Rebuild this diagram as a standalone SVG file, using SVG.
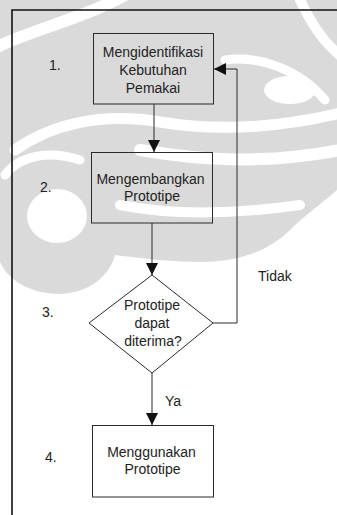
<svg xmlns="http://www.w3.org/2000/svg" width="337" height="515" viewBox="0 0 337 515">
  <style>
    .wm { fill: #dadada; }
    .gap { fill: none; stroke: #ffffff; stroke-linecap: round; }
    .box { fill: none; stroke: #2a2a2a; stroke-width: 1; }
    .edge { fill: none; stroke: #2a2a2a; stroke-width: 1; }
    .t { font-family: "Liberation Sans", Arial, sans-serif; font-size: 14px; fill: #222; }
    .c { text-anchor: middle; }
  </style>
  <defs>
    <marker id="arrow" viewBox="0 0 12 12" refX="12" refY="6" markerWidth="12" markerHeight="12" markerUnits="userSpaceOnUse" orient="auto">
      <path d="M0,0 L12,6 L0,12 Z" fill="#111"/>
    </marker>
  </defs>

  <rect width="337" height="515" fill="#ffffff"/>

  <!-- faint emblem in the background -->
  <g id="emblem">
    <path class="wm" d="M0,0 H337 V190 C320,205 305,215 290,230 C270,250 240,262 200,262 C170,262 140,258 115,255 C110,275 90,293 60,294 C30,294 8,280 0,262 Z"/>
    <path class="gap" stroke-width="12" d="M-5,48 C30,30 80,20 125,-5"/>
    <path class="gap" stroke-width="11" d="M15,150 C50,125 100,112 160,122 C220,132 280,128 345,112"/>
    <path class="gap" stroke-width="9" d="M225,60 C260,55 300,70 325,100"/>
    <ellipse cx="290" cy="90" rx="26" ry="14" fill="#ffffff"/>
    <path class="gap" stroke-width="12" d="M140,150 C200,160 260,165 340,150"/>
    <path class="gap" stroke-width="10" d="M120,205 C170,215 230,215 300,205"/>
    <path class="gap" stroke-width="9" d="M5,175 C20,155 50,150 80,160"/>
    <ellipse cx="57" cy="216" rx="30" ry="27" fill="#ffffff"/>
    <path class="gap" stroke-width="10" d="M300,0 C310,20 320,40 345,60"/>
  </g>

  <!-- page frame -->
  <path d="M12,515 V10 H337" fill="none" stroke="#111" stroke-width="1.6"/>

  <g id="connectors">
    <path class="edge" d="M154,104 V152" marker-end="url(#arrow)"/>
    <path class="edge" d="M152,223 V275" marker-end="url(#arrow)"/>
    <path class="edge" d="M152,373 V425" marker-end="url(#arrow)"/>
    <path class="edge" stroke="#555" d="M213,323 H237 V69 H214" marker-end="url(#arrow)"/>
    <text class="t" x="258" y="281">Tidak</text>
    <text class="t" x="165" y="406">Ya</text>
  </g>

  <g id="step1">
    <text class="t" x="49" y="70">1.</text>
    <rect class="box" x="93.5" y="33.5" width="120" height="70.5"/>
    <text class="t c" x="153" y="57">Mengidentifikasi</text>
    <text class="t c" x="153" y="75">Kebutuhan</text>
    <text class="t c" x="153" y="93">Pemakai</text>
  </g>

  <g id="step2">
    <text class="t" x="40" y="192">2.</text>
    <rect class="box" x="91.5" y="152.5" width="121" height="70.5"/>
    <text class="t c" x="150.5" y="184">Mengembangkan</text>
    <text class="t c" x="152" y="201">Prototipe</text>
  </g>

  <g id="step3">
    <text class="t" x="42" y="317">3.</text>
    <path class="box" d="M152,275 L213,323 L152,373 L89,323 Z"/>
    <text class="t c" x="152" y="310">Prototipe</text>
    <text class="t c" x="152" y="328">dapat</text>
    <text class="t c" x="153" y="346">diterima?</text>
  </g>

  <g id="step4">
    <text class="t" x="45" y="462">4.</text>
    <rect class="box" x="92.5" y="425.5" width="121" height="71.5"/>
    <text class="t c" x="151.5" y="457">Menggunakan</text>
    <text class="t c" x="152.5" y="474">Prototipe</text>
  </g>
</svg>
